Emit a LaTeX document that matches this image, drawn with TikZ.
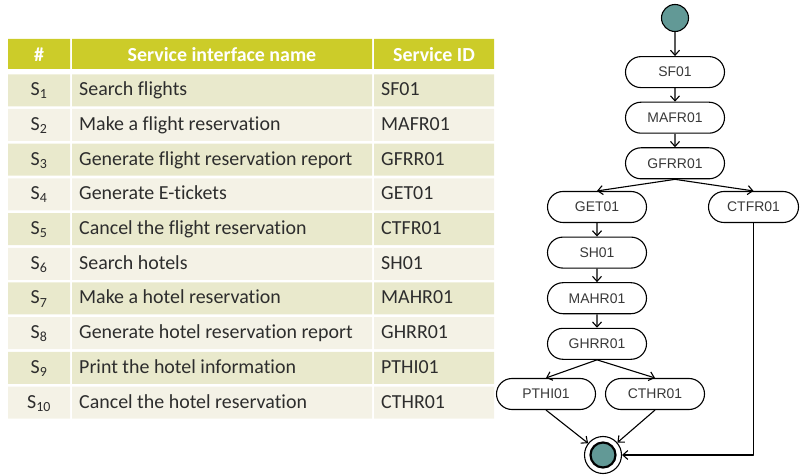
\documentclass[tikz,border=0pt]{standalone}
\usepackage{fontspec}
\setmainfont[Ligatures=NoCommon]{Carlito}
\newfontfamily\arialfont{Liberation Sans}
\usetikzlibrary{shapes.misc,arrows.meta,positioning}
\definecolor{headcol}{RGB}{204,204,41}
\definecolor{oddcol}{RGB}{233,233,204}
\definecolor{evencol}{RGB}{244,242,230}
\definecolor{txtcol}{RGB}{45,45,45}
\definecolor{tealcol}{RGB}{98,153,150}
\begin{document}
\begin{tikzpicture}[x=1bp, y=-1bp, line join=round, >={Straight Barb[length=5bp,width=9bp]},
    cell/.style={font=\fontsize{20}{24}\selectfont, text=txtcol, inner sep=0pt},
    headcell/.style={cell, font=\bfseries\fontsize{20}{24}\selectfont, text=white},
    act/.style={rounded rectangle, draw, line width=1.1bp, minimum width=103bp, minimum height=31bp,
        inner sep=2bp, font=\arialfont\fontsize{14}{16}\selectfont, text=black!78},
    flow/.style={->, line width=1.1bp}]
    \useasboundingbox (0,0) rectangle (801,475);
    \def\rtop{74.3}\def\rstep{34.7}\def\rh{32}
    \fill[headcol] (8,39) rectangle (70,69) (72,39) rectangle (372,69) (374,39) rectangle (494,69);
    \node[headcell, anchor=base] (hnum) at (39,61.5) {\#};
    \node[headcell, anchor=base] (hname) at (222,61.5) {Service interface name};
    \node[headcell, anchor=base] (hid) at (434,61.5) {Service ID};
    \foreach \i in {1,...,10}{
        \pgfmathsetmacro\yt{\rtop+(\i-1)*\rstep}
        \ifodd\i\def\rc{oddcol}\else\def\rc{evencol}\fi
        \fill[\rc] (8,\yt) rectangle (70,\yt+\rh) (72,\yt) rectangle (372,\yt+\rh) (374,\yt) rectangle (494,\yt+\rh);
    }
    \foreach \i/\nm/\sid in {1/Search flights/SF01, 2/Make a flight reservation/MAFR01,
        3/Generate flight reservation report/GFRR01, 4/Generate E-tickets/GET01,
        5/Cancel the flight reservation/CTFR01, 6/Search hotels/SH01,
        7/Make a hotel reservation/MAHR01, 8/Generate hotel reservation report/GHRR01,
        9/Print the hotel information/PTHI01, 10/Cancel the hotel reservation/CTHR01}{
        \pgfmathsetmacro\yb{\rtop+(\i-1)*\rstep+21.5}
        \node[cell, anchor=base] (s\i) at (39,\yb) {S\textsubscript{\i}};
        \node[cell, anchor=base west] (n\i) at (79,\yb) {\nm};
        \node[cell, anchor=base west] (d\i) at (381,\yb) {\sid};
    }
    \node[circle, draw, fill=tealcol, line width=1.1bp, minimum size=27bp, inner sep=0pt] (start) at (675,18) {};
    \node[act, below=24bp of start] (sf) {SF01};
    \node[act, below=13.5bp of sf] (mafr) {MAFR01};
    \node[act, below=13.5bp of mafr] (gfrr) {GFRR01};
    \node[act] (get) at (597,207) {GET01};
    \node[act, minimum width=94bp] (ctfr) at (753.5,207) {CTFR01};
    \node[act, below=13.5bp of get] (sh) {SH01};
    \node[act, below=13.5bp of sh] (mahr) {MAHR01};
    \node[act, below=13.5bp of mahr] (ghrr) {GHRR01};
    \node[act] (pthi) at (546,394) {PTHI01};
    \node[act] (cthr) at (655,394) {CTHR01};
    \node[circle, draw, line width=1.1bp, minimum size=37bp, inner sep=0pt] (stop) at (603,455) {};
    \node[circle, draw, fill=tealcol, line width=2.2bp, minimum size=25bp, inner sep=0pt] (stopin) at (stop) {};
    \draw[flow] (start) -- (sf);
    \draw[flow] (sf) -- (mafr);
    \draw[flow] (mafr) -- (gfrr);
    \draw[flow] (gfrr.south) -- (get.north);
    \draw[flow] (gfrr.south) -- (ctfr.north);
    \draw[flow] (get) -- (sh);
    \draw[flow] (sh) -- (mahr);
    \draw[flow] (mahr) -- (ghrr);
    \draw[flow] (ghrr.south) -- (pthi.north);
    \draw[flow] (ghrr.south) -- (cthr.north);
    \draw[flow] (pthi.south) -- (stop);
    \draw[flow] (cthr.south) -- (stop);
    \draw[flow] (ctfr.south) |- (stop);
\end{tikzpicture}
\end{document}
